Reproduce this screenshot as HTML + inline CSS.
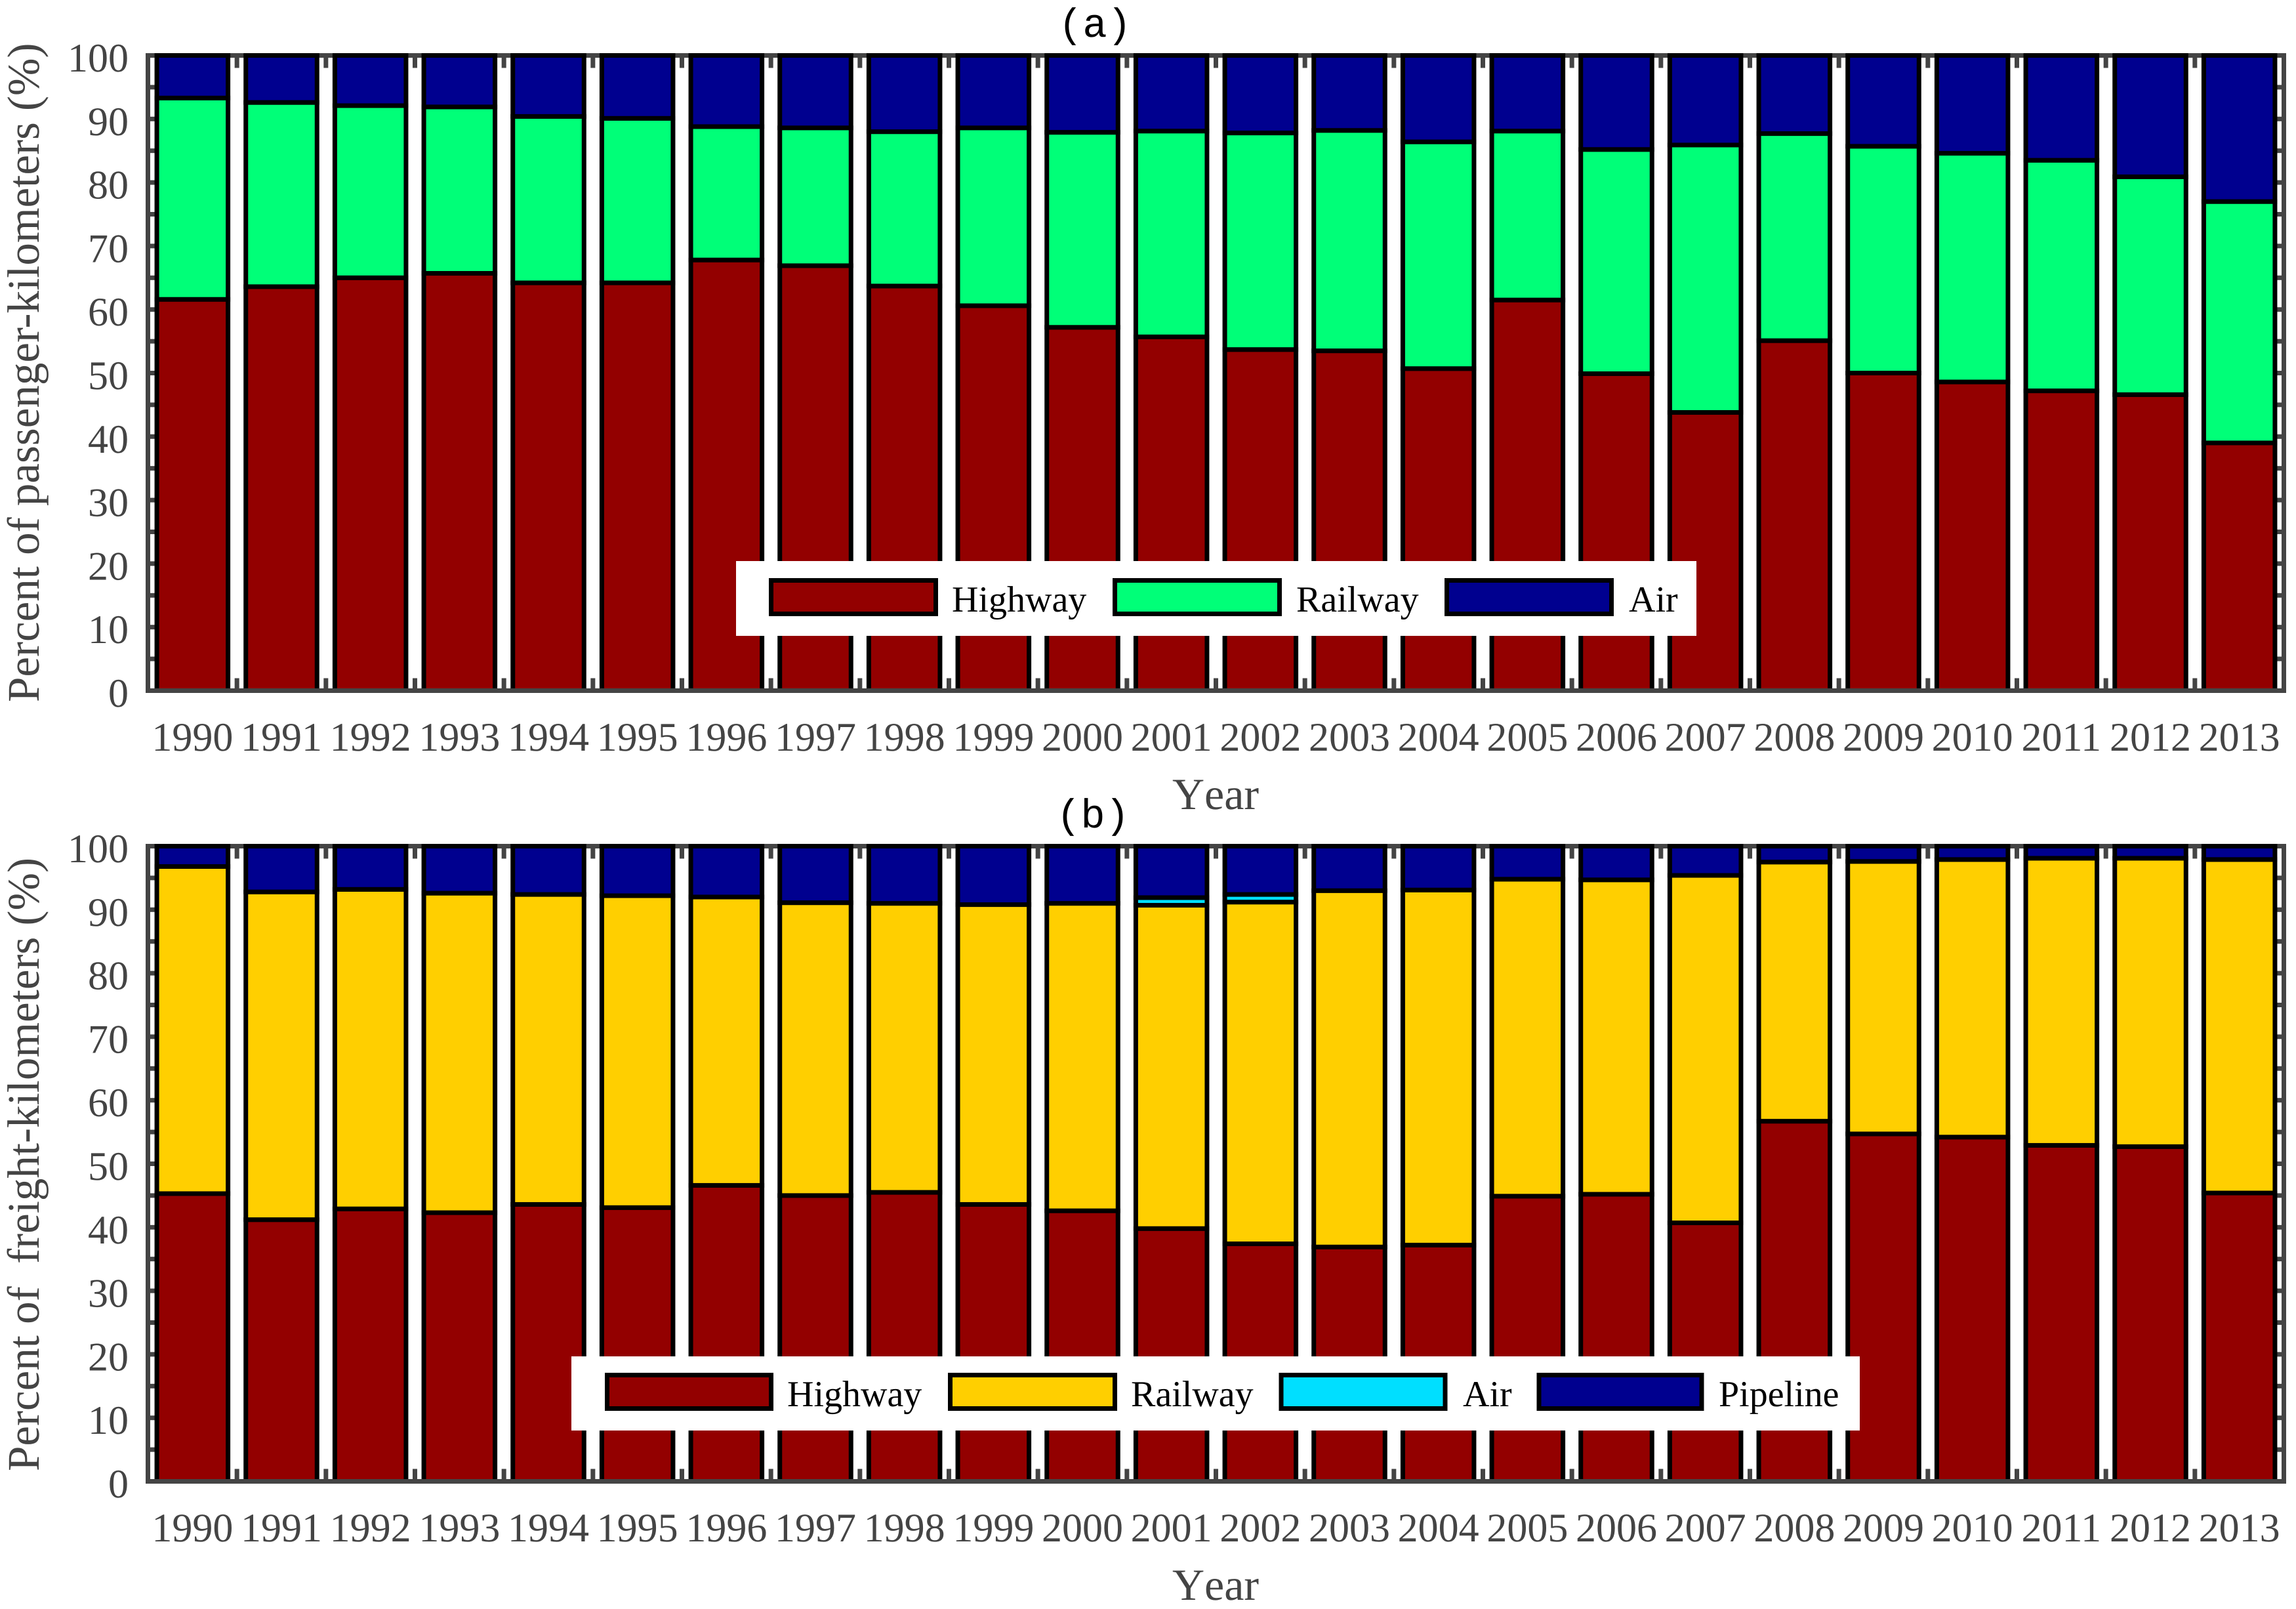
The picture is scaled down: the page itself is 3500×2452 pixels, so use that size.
<!DOCTYPE html>
<html lang="en">
<head>
<meta charset="utf-8">
<title>Modal shares of passenger and freight transport, 1990-2013</title>
<style>
  html, body { margin: 0; padding: 0; background: #ffffff; }
  svg { display: block; }
  .serif { font-family: "Liberation Serif", serif; text-rendering: geometricPrecision; }
  .mono { font-family: "Liberation Mono", monospace; text-rendering: geometricPrecision; }
  .tick-label { font-size: 62px; fill: #444444; }
  .axis-title { font-size: 69px; fill: #444444; white-space: pre; }
  .x-title { font-size: 68px; font-kerning: none; }
  .legend-label { font-size: 56px; fill: #000000; }
  .panel-title { font-size: 62px; fill: #000000; text-anchor: middle; }
</style>
</head>
<body>
<svg id="figure" xmlns="http://www.w3.org/2000/svg" width="3500" height="2452" viewBox="0 0 3500 2452">
  <rect x="0" y="0" width="3500" height="2452" fill="#ffffff"/>
  <g id="panel-a"></g>
  <g id="panel-b"></g>

  <text class="mono panel-title" x="1669" y="56">(a)</text>
  <text class="mono panel-title" x="1666" y="1261">(b)</text>

  <text class="serif axis-title x-title" x="1853" y="1233" text-anchor="middle">Year</text>
  <text class="serif axis-title x-title" x="1853" y="2438" text-anchor="middle">Year</text>

  <text class="serif axis-title" transform="translate(59,1070) rotate(-90)" x="0" y="0">Percent of passenger-kilometers (%)</text>
  <text class="serif axis-title" transform="translate(59,2242) rotate(-90)" x="0" y="0" xml:space="preserve">Percent of  freight-kilometers (%)</text>

  <g>
    <rect x="1122" y="855" width="1464" height="114" fill="#ffffff"/>
    <rect x="1175.5" y="884.5" width="251" height="51" fill="#930000" stroke="#000" stroke-width="7"/>
    <text class="serif legend-label" x="1451" y="932">Highway</text>
    <rect x="1699.5" y="884.5" width="251" height="51" fill="#00ff78" stroke="#000" stroke-width="7"/>
    <text class="serif legend-label" x="1976" y="932">Railway</text>
    <rect x="2205.5" y="884.5" width="251" height="51" fill="#00008f" stroke="#000" stroke-width="7"/>
    <text class="serif legend-label" x="2483" y="932">Air</text>
  </g>

  <g>
    <rect x="871" y="2067" width="1964" height="113" fill="#ffffff"/>
    <rect x="925.5" y="2095.5" width="250" height="51" fill="#930000" stroke="#000" stroke-width="7"/>
    <text class="serif legend-label" x="1200" y="2143">Highway</text>
    <rect x="1448.5" y="2095.5" width="251" height="51" fill="#ffcf00" stroke="#000" stroke-width="7"/>
    <text class="serif legend-label" x="1724" y="2143">Railway</text>
    <rect x="1953" y="2095.5" width="250" height="51" fill="#00dfff" stroke="#000" stroke-width="7"/>
    <text class="serif legend-label" x="2230" y="2143">Air</text>
    <rect x="2346" y="2095.5" width="248" height="51" fill="#00008f" stroke="#000" stroke-width="7"/>
    <text class="serif legend-label" x="2620" y="2143">Pipeline</text>
  </g>
</svg>

<script>
const years = ['1990','1991','1992','1993','1994','1995','1996','1997','1998','1999','2000','2001','2002','2003','2004','2005','2006','2007','2008','2009','2010','2011','2012','2013'];
const yTickLabels = ['0','10','20','30','40','50','60','70','80','90','100'];

const passengerHighway = [61.6,63.6,65.0,65.7,64.2,64.2,67.8,66.9,63.7,60.6,57.2,55.7,53.7,53.5,50.7,61.5,49.9,43.8,55.1,50.0,48.6,47.2,46.6,39.0];
const passengerRailway = [31.7,29.0,27.1,26.2,26.2,25.9,21.0,21.7,24.3,28.0,30.7,32.4,34.1,34.7,35.7,26.6,35.3,42.1,32.6,35.7,36.0,36.3,34.3,38.0];
const passengerAir = [6.7,7.4,7.9,8.1,9.6,9.9,11.2,11.4,12.0,11.4,12.1,11.9,12.2,11.8,13.6,11.9,14.8,14.1,12.3,14.3,15.4,16.5,19.1,23.0];

const freightHighway = [45.3,41.2,42.9,42.3,43.6,43.1,46.6,45.0,45.5,43.6,42.6,39.8,37.4,36.9,37.2,44.9,45.2,40.7,56.7,54.7,54.2,52.9,52.7,45.4];
const freightRailway = [51.5,51.6,50.3,50.3,48.8,49.1,45.4,46.1,45.5,47.2,48.4,50.9,53.8,56.1,55.9,49.9,49.5,54.7,40.8,42.9,43.7,45.2,45.4,52.5];
const freightAir = [0,0,0,0,0,0,0,0,0,0,0,1.2,1.2,0,0,0,0,0,0,0,0,0,0,0];
const freightPipeline = [3.2,7.2,6.8,7.4,7.6,7.8,8.0,8.9,9.0,9.2,9.0,8.1,7.6,7.0,6.9,5.2,5.3,4.6,2.5,2.4,2.1,1.9,1.9,2.1];

const SVG_NS = 'http://www.w3.org/2000/svg';
const AXIS_COLOR = '#444444';
const LINE = 7;
const TICK_LENGTH = 19;
const AXIS_LEFT = 225.5;
const AXIS_RIGHT = 3481.5;
const BAR_FRACTION = 0.8;

function xBand() {
  return (AXIS_RIGHT - AXIS_LEFT) / years.length;
}
function xEdge(k) {
  return AXIS_LEFT + k * xBand();
}
function xCenter(i) {
  return AXIS_LEFT + (i + 0.5) * xBand();
}
function yScale(top, bottom, value) {
  return bottom - (value / 100) * (bottom - top);
}
function make(parent, tag, attrs) {
  const node = document.createElementNS(SVG_NS, tag);
  for (const key of Object.keys(attrs)) {
    node.setAttribute(key, attrs[key]);
  }
  parent.appendChild(node);
  return node;
}

function drawPanel(group, prefix, top, bottom, seriesList) {
  const half = LINE / 2;

  // Axis box parts and ticks that sit behind the bars
  const topAxis = make(group, 'rect', { x: AXIS_LEFT - half, y: top - half, width: AXIS_RIGHT - AXIS_LEFT + LINE, height: LINE, fill: AXIS_COLOR });
  
  
  const leftAxis = make(group, 'rect', { x: AXIS_LEFT - half, y: top - half, width: LINE, height: bottom - top + LINE, fill: AXIS_COLOR });
  
  
  const rightAxis = make(group, 'rect', { x: AXIS_RIGHT - half, y: top - half, width: LINE, height: bottom - top + LINE, fill: AXIS_COLOR });
  
  

  for (let v = 0; v <= 100; v += 5) {
    const y = yScale(top, bottom, v);
    const tickL = make(group, 'rect', { x: AXIS_LEFT, y: y - half, width: TICK_LENGTH, height: LINE, fill: AXIS_COLOR });
    
    
    const tickR = make(group, 'rect', { x: AXIS_RIGHT - TICK_LENGTH, y: y - half, width: TICK_LENGTH, height: LINE, fill: AXIS_COLOR });
    
    
  }
  for (let k = 1; k < years.length; k++) {
    const x = xEdge(k);
    const tickT = make(group, 'rect', { x: x - half, y: top, width: LINE, height: TICK_LENGTH, fill: AXIS_COLOR });
    
    
    const tickB = make(group, 'rect', { x: x - half, y: bottom - TICK_LENGTH, width: LINE, height: TICK_LENGTH, fill: AXIS_COLOR });
    
    
  }

  // Stacked bars
  const barWidth = xBand() * BAR_FRACTION;
  years.forEach(function (year, i) {
    let cumulative = 0;
    seriesList.forEach(function (series) {
      const value = series.values[i];
      const y0 = yScale(top, bottom, cumulative);
      const y1 = yScale(top, bottom, cumulative + value);
      cumulative += value;
      if (value <= 0) { return; }
      const bar = make(group, 'rect', {
        x: xCenter(i) - barWidth / 2,
        y: y1,
        width: barWidth,
        height: y0 - y1,
        fill: series.color,
        stroke: '#000000',
        'stroke-width': LINE,
        'stroke-linejoin': 'miter'
      });
      
      
    });
  });

  // Bottom axis sits over the bar bases
  const bottomAxis = make(group, 'rect', { x: AXIS_LEFT - half, y: bottom - half, width: AXIS_RIGHT - AXIS_LEFT + LINE, height: LINE, fill: AXIS_COLOR });
  
  

  // Tick labels
  yTickLabels.forEach(function (label) {
    const text = make(group, 'text', { x: 196, y: yScale(top, bottom, Number(label)) + 24.5, 'text-anchor': 'end', 'class': 'serif tick-label' });
    text.textContent = label;
    
    
  });
  years.forEach(function (year, i) {
    const text = make(group, 'text', { x: xCenter(i), y: bottom + 91.5, 'text-anchor': 'middle', 'class': 'serif tick-label' });
    text.textContent = year;
    
    
  });
}

drawPanel(document.getElementById('panel-a'), 'passenger', 84.5, 1052.5, [
  { name: 'highway', color: '#930000', values: passengerHighway },
  { name: 'railway', color: '#00ff78', values: passengerRailway },
  { name: 'air', color: '#00008f', values: passengerAir }
]);

drawPanel(document.getElementById('panel-b'), 'freight', 1289.5, 2257.5, [
  { name: 'highway', color: '#930000', values: freightHighway },
  { name: 'railway', color: '#ffcf00', values: freightRailway },
  { name: 'air', color: '#00dfff', values: freightAir },
  { name: 'pipeline', color: '#00008f', values: freightPipeline }
]);

// Keep titles and legends above the bars
const figure = document.getElementById('figure');
Array.from(figure.children).forEach(function (child) {
  if (child.id !== 'panel-a' && child.id !== 'panel-b' && child.tagName.toLowerCase() !== 'rect') {
    figure.appendChild(child);
  }
});
</script>
</body>
</html>
